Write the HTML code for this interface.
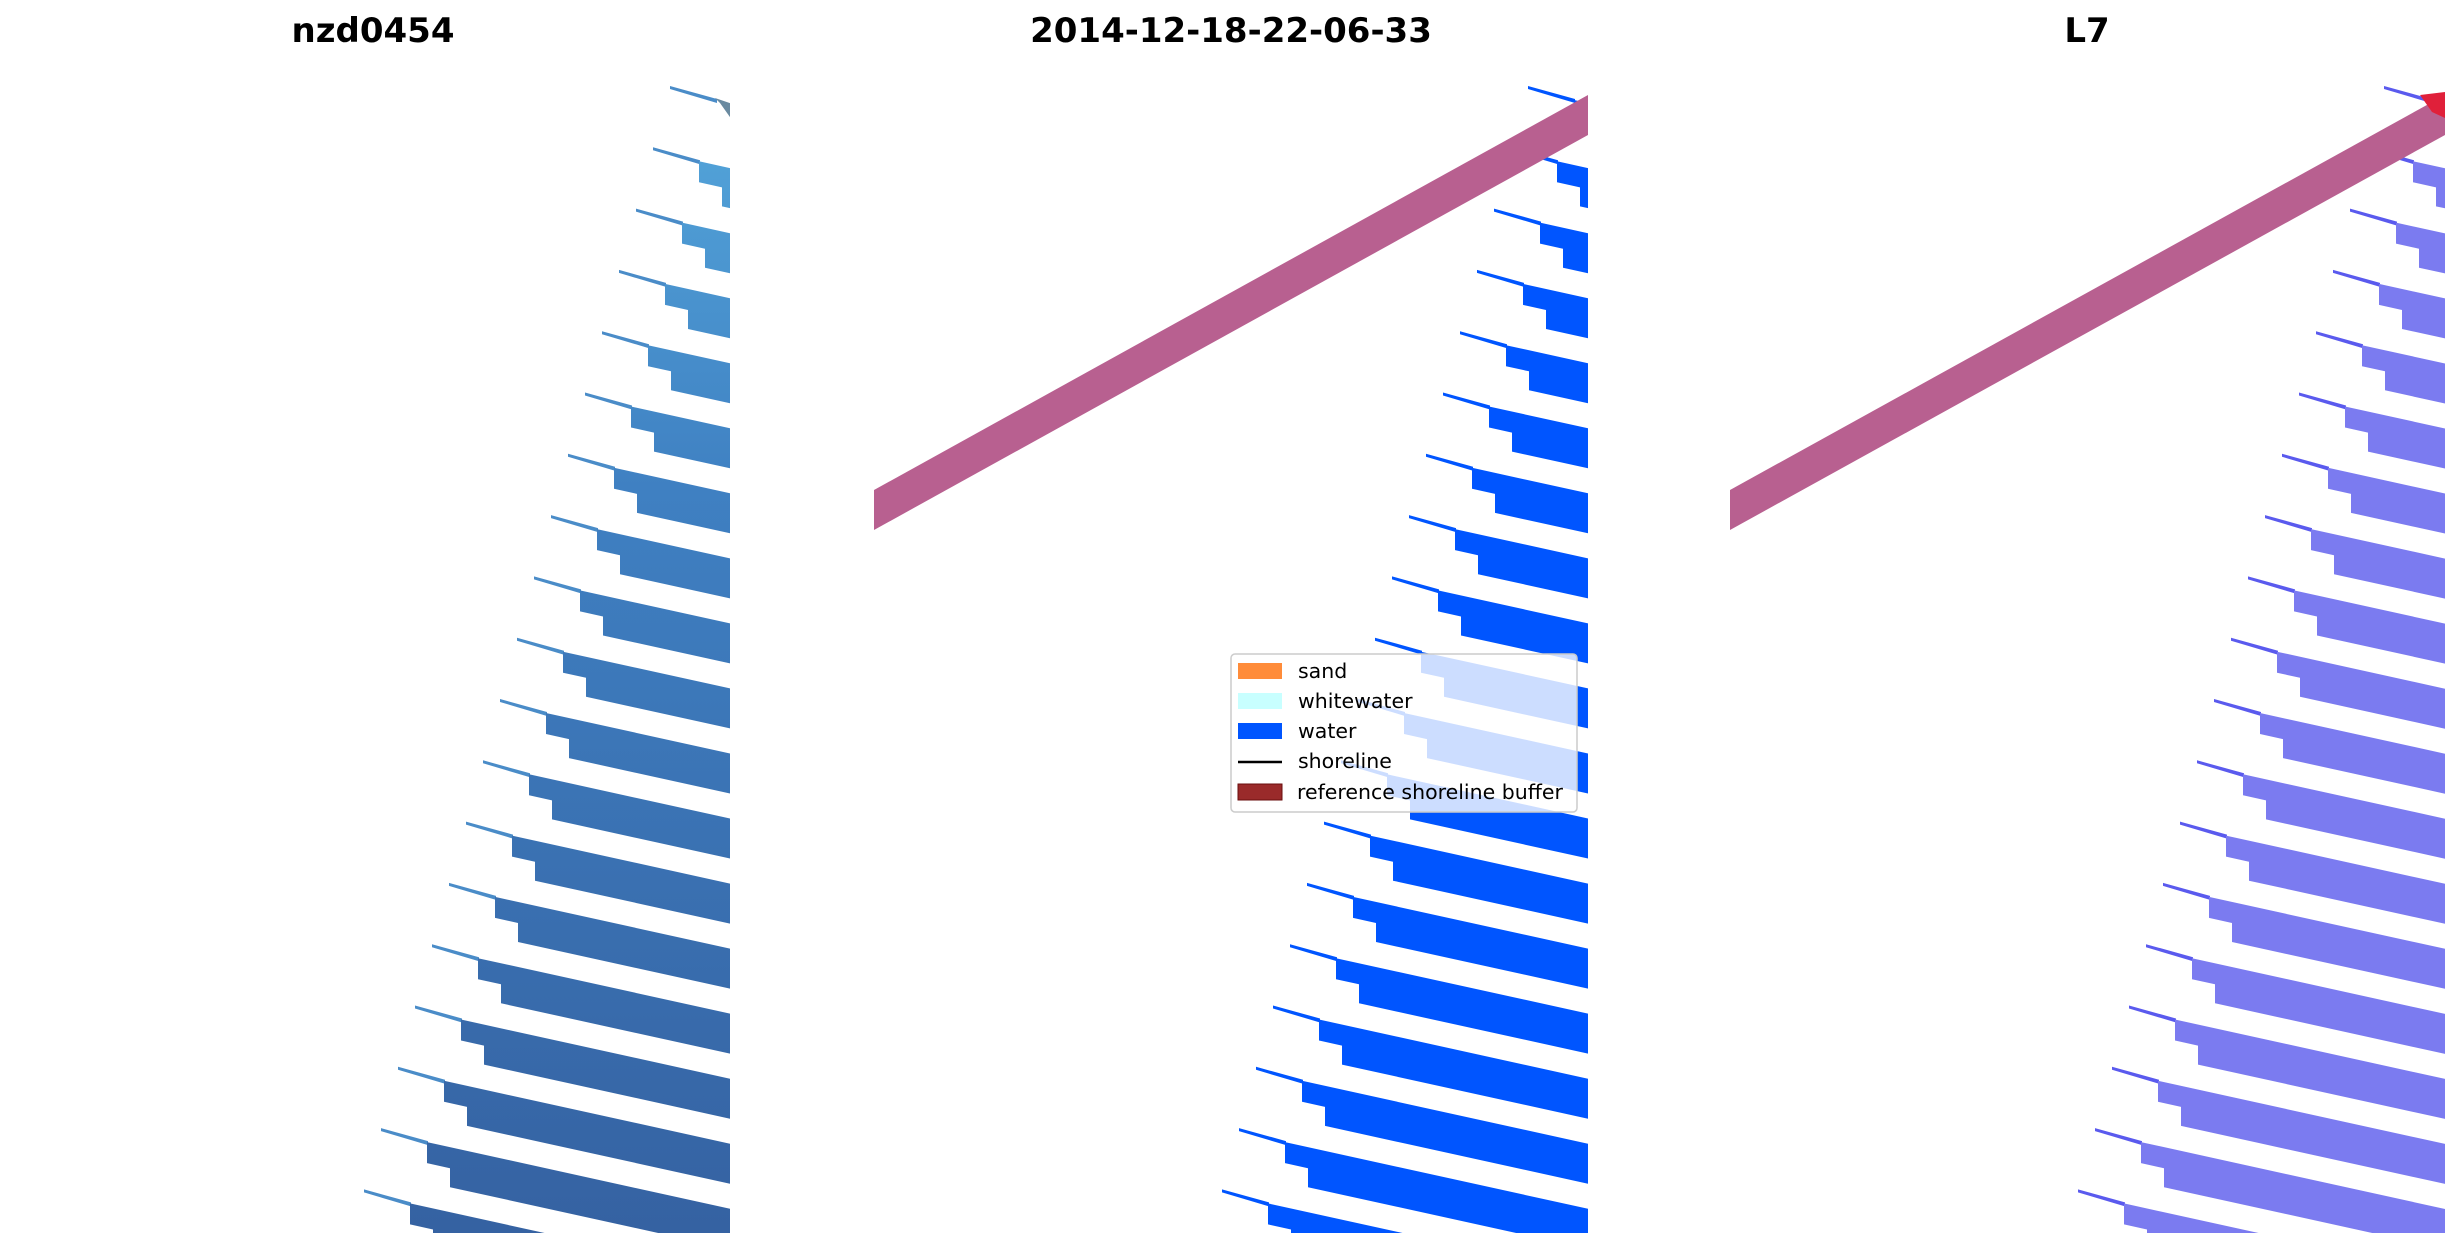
<!DOCTYPE html>
<html><head><meta charset="utf-8"><style>
html,body{margin:0;padding:0;background:#fff;width:2460px;height:1249px;overflow:hidden}
svg{display:block;position:absolute;left:0;top:0}
</style></head><body>
<svg id="s" width="2460" height="1249" xmlns="http://www.w3.org/2000/svg" font-family="DejaVu Sans, Liberation Sans, sans-serif">
<defs>
<linearGradient id="g1" gradientUnits="userSpaceOnUse" x1="0" y1="86" x2="0" y2="1233">
<stop offset="0" stop-color="#55a8dc"/><stop offset="0.35" stop-color="#3f80c2"/><stop offset="1" stop-color="#3562a2"/>
</linearGradient>
<clipPath id="c1"><rect x="16" y="80" width="714" height="1153"/></clipPath>
<clipPath id="c2"><rect x="874" y="80" width="714" height="1153"/></clipPath>
<clipPath id="c3"><rect x="1730" y="80" width="715" height="1153"/></clipPath>
</defs>
<g id="p1" clip-path="url(#c1)"></g>
<g id="p2" clip-path="url(#c2)"></g>
<g id="p3" clip-path="url(#c3)"></g>
<text x="373" y="42" text-anchor="middle" font-size="34" font-weight="bold">nzd0454</text>
<text x="1231" y="42" text-anchor="middle" font-size="34" font-weight="bold">2014-12-18-22-06-33</text>
<text x="2087" y="42" text-anchor="middle" font-size="34" font-weight="bold">L7</text>
<g>
<rect x="1231" y="654" width="346" height="158" rx="4" fill="#fff" fill-opacity="0.8" stroke="#cccccc" stroke-width="1.5"/>
<rect x="1238" y="663" width="44" height="16" fill="#ff8c3a"/>
<rect x="1238" y="693" width="44" height="16" fill="#c8ffff"/>
<rect x="1238" y="723" width="44" height="16" fill="#0055ff"/>
<line x1="1238" y1="762" x2="1282" y2="762" stroke="#000" stroke-width="2.5"/>
<rect x="1238" y="784" width="44" height="16" fill="#9a2a2a" stroke="#6a0e0e" stroke-width="1"/>
<g font-size="20.5" fill="#000">
<text x="1298" y="678">sand</text>
<text x="1298" y="708">whitewater</text>
<text x="1298" y="738">water</text>
<text x="1298" y="768">shoreline</text>
<text x="1297" y="799">reference shoreline buffer</text>
</g>
</g>
</svg>
<script>
var NS="http://www.w3.org/2000/svg";
function poly(g,pts,fill){var p=document.createElementNS(NS,"polygon");p.setAttribute("points",pts.map(function(a){return a[0].toFixed(1)+","+a[1].toFixed(1)}).join(" "));p.setAttribute("fill",fill);g.appendChild(p);}
function stripes(id,off,R,fill,thin){
 var g=document.getElementById(id);
 for(var k=0;k<20;k++){
  var ty=86+61.3*k, tx=670-17*k+off;
  var s=0.22;
  var top=function(x){return ty+14+(x-tx-46)*s;};
  poly(g,[[tx,ty],[tx+47,ty+13],[tx+47,ty+17],[tx,ty+3]],thin);
  if(k===0 && id==="p1"){poly(g,[[tx+45,ty+12],[R,top(R)],[R,top(R)+14],[tx+50,ty+17]],"#6a8aa0");continue;}
  poly(g,[[tx+46,top(tx+46)],[R,top(R)],[R,top(R)+40],[tx+69,top(tx+69)+40],[tx+69,top(tx+69)+21],[tx+46,top(tx+46)+21]],fill);
 }
}
stripes("p1",0,730,"url(#g1)","#4a8cc8");
stripes("p2",858,1588,"#0055ff","#0055ff");
stripes("p3",1714,2445,"#7b7bf0","#5a5aee");
poly(document.getElementById("p2"),[[874,490],[1588,95],[1588,135],[874,530]],"#b86090");
poly(document.getElementById("p3"),[[1730,490],[2445,95],[2445,135],[1730,530]],"#b86090");
poly(document.getElementById("p3"),[[2420,95],[2445,92],[2445,118],[2432,112]],"#e0203a");
</script>
</body></html>
